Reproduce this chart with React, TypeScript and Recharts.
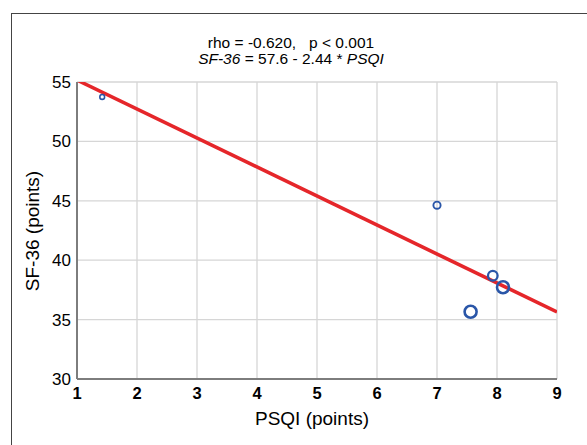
import React from 'react';
import { ScatterChart, Scatter, XAxis, YAxis, CartesianGrid, ReferenceLine } from 'recharts';

// PSQI (x) and SF-36 (y) values, with relative bubble weight
const psqi = [1.42, 7.0, 7.93, 8.1, 7.56];
const sf36 = [53.74, 44.63, 38.69, 37.72, 35.66];
const weight = [1, 2, 3, 4, 4];

const xTicks = [1, 2, 3, 4, 5, 6, 7, 8, 9];
const yTicks = [30, 35, 40, 45, 50, 55];
const xMinorTicks = [
  1, 1.25, 1.5, 1.75, 2, 2.25, 2.5, 2.75, 3, 3.25, 3.5, 3.75, 4, 4.25, 4.5, 4.75,
  5, 5.25, 5.5, 5.75, 6, 6.25, 6.5, 6.75, 7, 7.25, 7.5, 7.75, 8, 8.25, 8.5, 8.75, 9,
];
const yMinorTicks = [
  30, 31, 32, 33, 34, 35, 36, 37, 38, 39, 40, 41, 42, 43, 44, 45, 46, 47, 48, 49, 50,
  51, 52, 53, 54, 55,
];

// regression SF-36 = 57.6 - 2.44 * PSQI, endpoints at x = 1 and x = 9
const regressionStart = { x: 1, y: 55.16 };
const regressionEnd = { x: 9, y: 35.64 };

const titleLine1 = 'rho = -0.620,   p < 0.001';
const xTitle = 'PSQI (points)';
const yTitle = 'SF-36 (points)';

const points = psqi.map((x, i) => ({ x, y: sf36[i], n: weight[i] }));

const FONT = 'Liberation Sans, Arial, sans-serif';
const AXIS = '#7d7d7d';
const TICK = '#555555';

const Bubble = (props: any) => {
  const { cx, cy, payload } = props;
  const n = payload.n;
  const r = 1.2 + 1.2 * n;
  return (
    <circle cx={cx} cy={cy} r={r} fill="none" stroke="#2a56a8" strokeWidth={1.2 + 0.35 * n} />
  );
};

export default function App() {
  return (
    <div style={{ position: 'absolute', left: 0, top: 0, width: 587, height: 445, background: '#fff', fontFamily: FONT }}>
      <div
        style={{
          position: 'absolute',
          left: 11,
          top: 13,
          width: 576,
          height: 432,
          boxSizing: 'border-box',
          borderLeft: '1px solid #444',
          borderTop: '1px solid #444',
        }}
      />
      <div style={{ position: 'absolute', left: 0, top: 0 }}>
        <ScatterChart width={587} height={445} margin={{ top: 82, right: 30, bottom: 36, left: 17 }}>
          <CartesianGrid stroke="#d6d6d6" strokeWidth={1.3} />
          <XAxis
            type="number"
            dataKey="x"
            domain={[1, 9]}
            ticks={xTicks}
            allowDataOverflow
            height={30}
            tickLine={false}
            tickSize={0}
            tickMargin={8}
            axisLine={{ stroke: AXIS, strokeWidth: 2 }}
            tick={{ fill: '#000', fontSize: 16.5, fontWeight: 'bold', fontFamily: FONT }}
          />
          <YAxis
            type="number"
            dataKey="y"
            domain={[30, 55]}
            ticks={yTicks}
            allowDataOverflow
            width={60}
            tickLine={false}
            tickSize={0}
            tickMargin={6}
            axisLine={{ stroke: AXIS, strokeWidth: 2 }}
            tick={{ fill: '#000', fontSize: 17, fontFamily: FONT }}
          />
          <XAxis
            xAxisId="minB"
            type="number"
            domain={[1, 9]}
            ticks={xMinorTicks}
            orientation="bottom"
            mirror
            height={0}
            tick={false}
            tickSize={3}
            axisLine={false}
            tickLine={{ stroke: TICK, strokeWidth: 1 }}
          />
          <XAxis
            xAxisId="top"
            type="number"
            domain={[1, 9]}
            ticks={xMinorTicks}
            orientation="top"
            mirror
            height={0}
            tick={false}
            tickSize={3}
            axisLine={{ stroke: AXIS, strokeWidth: 2 }}
            tickLine={{ stroke: TICK, strokeWidth: 1 }}
          />
          <YAxis
            yAxisId="minL"
            type="number"
            domain={[30, 55]}
            ticks={yMinorTicks}
            orientation="left"
            mirror
            width={0}
            tick={false}
            tickSize={3}
            axisLine={false}
            tickLine={{ stroke: TICK, strokeWidth: 1 }}
          />
          <YAxis
            yAxisId="right"
            type="number"
            domain={[30, 55]}
            ticks={yMinorTicks}
            orientation="right"
            mirror
            width={0}
            tick={false}
            tickSize={3}
            axisLine={{ stroke: AXIS, strokeWidth: 2 }}
            tickLine={{ stroke: TICK, strokeWidth: 1 }}
          />
          <ReferenceLine
            segment={[regressionStart, regressionEnd]}
            stroke="#e5262a"
            strokeWidth={3.6}
            ifOverflow="hidden"
          />
          <Scatter data={points} shape={Bubble} isAnimationActive={false} />
        </ScatterChart>
      </div>
      <svg width={587} height={445} style={{ position: 'absolute', left: 0, top: 0, pointerEvents: 'none' }}>
        <text x={291} y={47.5} textAnchor="middle" fontSize={15.5} fontFamily={FONT} fill="#000" style={{ whiteSpace: 'pre' }}>
          {titleLine1}
        </text>
        <text x={291} y={64} textAnchor="middle" fontSize={15.5} fontFamily={FONT} fill="#000" style={{ whiteSpace: 'pre' }}>
          <tspan fontStyle="italic">SF-36</tspan>
          <tspan>{' = 57.6 - 2.44 * '}</tspan>
          <tspan fontStyle="italic">PSQI</tspan>
        </text>
        <text x={312} y={425} textAnchor="middle" fontSize={19} fontFamily={FONT} fill="#000">
          {xTitle}
        </text>
        <text
          x={0}
          y={0}
          transform="translate(39 231) rotate(-90)"
          textAnchor="middle"
          fontSize={19}
          fontFamily={FONT}
          fill="#000"
        >
          {yTitle}
        </text>
      </svg>
    </div>
  );
}
